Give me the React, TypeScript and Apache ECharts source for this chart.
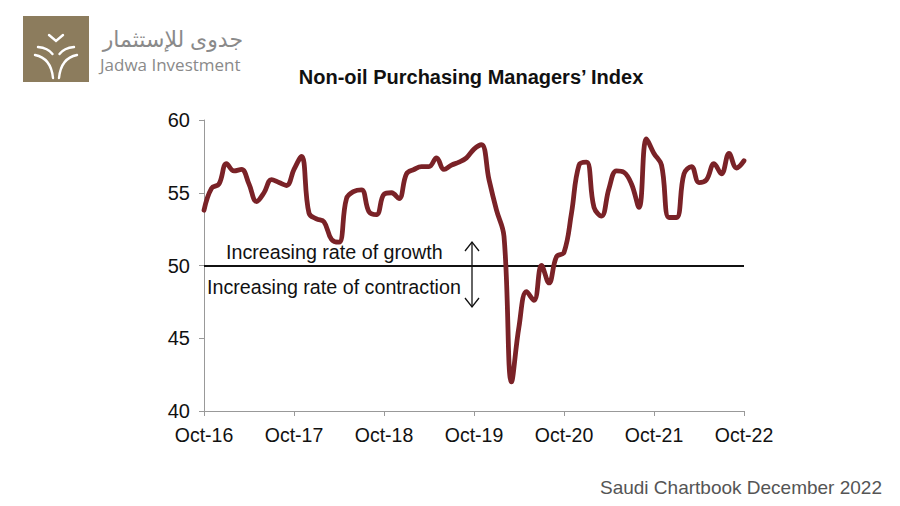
import React, { useEffect, useRef } from "react";
import * as echarts from "echarts";

const monthNames = ["Oct", "Nov", "Dec", "Jan", "Feb", "Mar", "Apr", "May", "Jun", "Jul", "Aug", "Sep"];
const startYear = 16;
const monthCount = 73;
const categories: string[] = [];
for (let i = 0; i < monthCount; i++) {
  const yr = startYear + Math.floor((i + 9) / 12);
  categories.push(`${monthNames[i % 12]}-${yr}`);
}

const pmiValues = [
  53.8, 55.3, 55.6, 57.0, 56.5, 56.6, 55.6, 54.4, 55.0, 55.9, 55.7, 55.5,
  56.6, 57.5, 53.6, 53.2, 53.0, 51.8, 51.6, 54.6, 55.1, 55.2, 53.7, 53.5,
  54.9, 55.0, 54.6, 56.3, 56.6, 56.8, 56.8, 57.4, 56.6, 56.9, 57.1, 57.4,
  58.0, 58.3, 55.9, 53.8, 52.0, 42.0, 45.8, 48.2, 47.6, 50.0, 48.8, 50.6,
  50.9, 53.6, 56.9, 57.1, 54.0, 53.4, 55.3, 56.5, 56.4, 55.6, 54.0, 58.7,
  57.7, 56.9, 53.3, 53.3, 56.3, 56.8, 55.7, 55.9, 57.0, 56.3, 57.7, 56.7,
  57.2,
];

const yTicks = [40, 45, 50, 55, 60];
const threshold = 50;

const titleText = "Non-oil Purchasing Managers\u2019 Index";
const growthText = "Increasing rate of growth";
const contractionText = "Increasing rate of contraction";
const footerText = "Saudi Chartbook December 2022";
const logoArabic = "جدوى للإستثمار";
const logoLatin = "Jadwa Investment";

const FONT = "'Liberation Sans', Arial, Helvetica, sans-serif";

let registered = false;
function registerShapes() {
  if (registered) return;
  registered = true;
  const logoD =
    "M49 35 L56 41 L63 35 " +
    "M38 47 Q48 48 52.5 54 M74 47 Q64 48 59.5 54 " +
    "M35 55 Q51 58 53 78 M77 55 Q61 58 59 78";
  echarts.graphic.registerShape("jadwaLogo", echarts.graphic.extendPath(logoD, {}) as any);
}

export default function App() {
  const ref = useRef<HTMLDivElement>(null);
  useEffect(() => {
    if (!ref.current) return;
    registerShapes();
    const chart = echarts.init(ref.current, undefined, { renderer: "svg" });
    const arrowX = 472;
    const arrowTop = 242;
    const arrowBottom = 307;
    chart.setOption({
      animation: false,
      backgroundColor: "#ffffff",
      grid: { left: 204, right: 156, top: 120, bottom: 95, containLabel: false },
      xAxis: {
        type: "category",
        data: categories,
        boundaryGap: false,
        axisLine: { lineStyle: { color: "#999999", width: 1 } },
        axisTick: { show: true, interval: 11, length: 5, inside: false, lineStyle: { color: "#999999" } },
        axisLabel: { interval: 11, color: "#111111", fontSize: 19.5, fontFamily: FONT, margin: 14 },
        splitLine: { show: false },
      },
      yAxis: {
        type: "value",
        min: yTicks[0],
        max: yTicks[yTicks.length - 1],
        interval: 5,
        axisLine: { show: true, lineStyle: { color: "#999999", width: 1 } },
        axisTick: { show: true, length: 5, lineStyle: { color: "#999999" } },
        axisLabel: { color: "#111111", fontSize: 20, fontFamily: FONT, margin: 14 },
        splitLine: { show: false },
      },
      series: [
        {
          type: "line",
          data: pmiValues,
          smooth: 0.4,
          symbol: "none",
          lineStyle: { color: "#7a2227", width: 4.8, cap: "round", join: "round" },
          z: 3,
          markLine: {
            silent: true,
            symbol: ["none", "none"],
            label: { show: false },
            lineStyle: { color: "#111111", width: 2, type: "solid" },
            data: [{ yAxis: threshold }],
            z: 2,
          },
        },
      ],
      graphic: [
        { type: "rect", shape: { x: 23, y: 16, width: 66, height: 66 }, style: { fill: "#8c7c5d" } },
        {
          type: "jadwaLogo",
          x: 0,
          y: 0,
          style: { fill: "none", stroke: "#ffffff", lineWidth: 2.4, lineCap: "round" },
        },
        {
          type: "text",
          x: 243,
          y: 38,
          style: {
            text: logoArabic,
            fill: "#8a8a8a",
            font: `22px 'Noto Sans', 'DejaVu Sans', sans-serif`,
            textAlign: "right",
            textVerticalAlign: "middle",
          },
        },
        {
          type: "text",
          x: 100,
          y: 64,
          style: {
            text: logoLatin,
            fill: "#8a8a8a",
            font: `17px 'Open Sans', 'Noto Sans', sans-serif`,
            textAlign: "left",
            textVerticalAlign: "middle",
          },
        },
        {
          type: "text",
          x: 471,
          y: 77,
          style: {
            text: titleText,
            fill: "#111111",
            font: `bold 20px ${FONT}`,
            textAlign: "center",
            textVerticalAlign: "middle",
          },
        },
        {
          type: "text",
          x: 226,
          y: 252,
          style: {
            text: growthText,
            fill: "#111111",
            font: `19.7px ${FONT}`,
            textAlign: "left",
            textVerticalAlign: "middle",
          },
        },
        {
          type: "text",
          x: 207,
          y: 287,
          style: {
            text: contractionText,
            fill: "#111111",
            font: `19.7px ${FONT}`,
            textAlign: "left",
            textVerticalAlign: "middle",
          },
        },
        {
          type: "line",
          shape: { x1: arrowX, y1: arrowTop, x2: arrowX, y2: arrowBottom },
          style: { stroke: "#111111", lineWidth: 1.3 },
        },
        {
          type: "polyline",
          shape: { points: [[arrowX - 7, arrowTop + 9], [arrowX, arrowTop], [arrowX + 7, arrowTop + 9]] },
          style: { stroke: "#111111", lineWidth: 1.3, fill: "none" },
        },
        {
          type: "polyline",
          shape: { points: [[arrowX - 7, arrowBottom - 9], [arrowX, arrowBottom], [arrowX + 7, arrowBottom - 9]] },
          style: { stroke: "#111111", lineWidth: 1.3, fill: "none" },
        },
        {
          type: "text",
          x: 882,
          y: 487,
          style: {
            text: footerText,
            fill: "#555555",
            font: `19px ${FONT}`,
            textAlign: "right",
            textVerticalAlign: "middle",
          },
        },
      ],
    });
    return () => chart.dispose();
  }, []);
  return <div ref={ref} style={{ width: 900, height: 506, position: "fixed", left: 0, top: 0 }} />;
}
